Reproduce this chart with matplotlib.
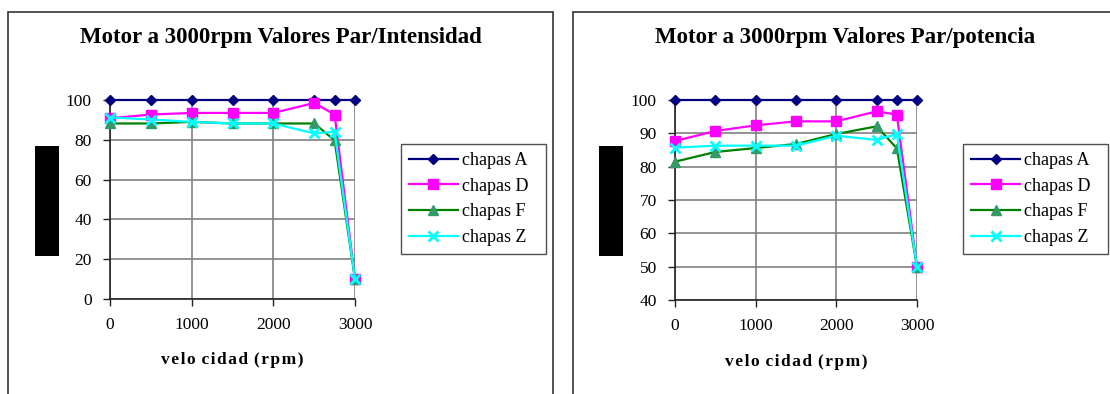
import matplotlib
matplotlib.use("Agg")
import matplotlib.pyplot as plt
from matplotlib.patches import Rectangle

plt.rcParams['font.family'] = ['Liberation Serif', 'DejaVu Serif']

# speeds (rpm) where each motor was measured
rpm = [0, 500, 1000, 1500, 2000, 2500, 2750, 3000]
series_names = ["chapas A", "chapas D", "chapas F", "chapas Z"]

# Par/Intensidad
intens_A = [100, 100, 100, 100, 100, 100, 100, 100]
intens_D = [90.8, 92.7, 93.5, 93.5, 93.5, 98.5, 92.7, 10]
intens_F = [88.2, 88.2, 89, 88.2, 88.2, 88.2, 79.8, 10]
intens_Z = [91.2, 90.2, 89, 88.2, 88.2, 83.2, 84, 10]

# Par/potencia
poten_A = [100, 100, 100, 100, 100, 100, 100, 100]
poten_D = [87.7, 90.7, 92.4, 93.6, 93.6, 96.6, 95.6, 50]
poten_F = [81.5, 84.4, 85.6, 86.8, 89.8, 92.1, 85.5, 50]
poten_Z = [85.7, 86.3, 86.3, 86.3, 89.3, 88.0, 89.8, 50]

styles = [
    dict(color='#000080', marker='D', markersize=5.5, mfc='#000080', mec='#000080'),
    dict(color='#FF00FF', marker='s', markersize=6.5, mfc='#FF00FF', mec='#FF00FF'),
    dict(color='#008000', marker='^', markersize=7.5, mfc='#339966', mec='#339966'),
    dict(color='#00FFFF', marker='x', markersize=7.5, mfc='#00FFFF', mec='#00FFFF', mew=2),
]

W, H = 1110, 394
fig = plt.figure(figsize=(W / 100, H / 100), dpi=100)


def fx(px):
    return px / W


def fy(py):
    return 1 - py / H


def chart(frame_x0, frame_x1, ax_box, title, ys, ylim, yticks, block_x, leg_box):
    # outer chart border
    fig.patches.append(Rectangle((fx(frame_x0), fy(420)), fx(frame_x1 - frame_x0), (420 - 12) / H,
                                 transform=fig.transFigure, fill=False, ec='#333333', lw=1.2))
    # black block where the y title sat
    fig.patches.append(Rectangle((fx(block_x), fy(256)), fx(24), 110 / H,
                                 transform=fig.transFigure, fc='black', ec='none'))

    x0, x1, ytop, ybot = ax_box
    ax = fig.add_axes([fx(x0), fy(ybot), fx(x1 - x0), (ybot - ytop) / H])
    lines = []
    for vals, st in zip(ys, styles):
        ln, = ax.plot(rpm, vals, lw=1.6, clip_on=False, zorder=3, **st)
        lines.append(ln)

    ax.set_xlim(0, 3000)
    ax.set_ylim(*ylim)
    ax.set_xticks([0, 1000, 2000, 3000])
    ax.set_yticks(yticks)
    ax.grid(True, color='#808080', lw=1.2)
    ax.set_axisbelow(True)
    for s in ['top', 'right']:
        ax.spines[s].set_visible(False)
    for s in ['left', 'bottom']:
        ax.spines[s].set_color('#222222')
        ax.spines[s].set_linewidth(1.2)
    ax.tick_params(axis='both', direction='out', length=5, width=1, color='#222222',
                   labelsize=12.5, pad=8)
    ax.set_xlabel("v\u200ae\u200al\u200ao\u200a c\u200ai\u200ad\u200aa\u200ad\u200a (\u200ar\u200ap\u200am\u200a)",
                  fontsize=12.5, fontweight='bold', labelpad=14)

    fig.text(fx((frame_x0 + frame_x0 + 545) / 2), fy(38), title, ha='center', va='center',
             fontsize=16.5, fontweight='bold')

    lx0, lx1, ly0, ly1 = leg_box
    leg = fig.legend(lines, series_names, loc='upper left',
                     bbox_to_anchor=(fx(lx0), fy(ly1), fx(lx1 - lx0), (ly1 - ly0) / H),
                     mode='expand', fontsize=13, frameon=True, fancybox=False,
                     edgecolor='#222222', handlelength=2.7, handletextpad=0.25,
                     labelspacing=0.48, borderpad=0.45, borderaxespad=0)
    leg.get_frame().set_linewidth(1.0)
    return ax


chart(8, 553, (110, 355, 100, 299), "Motor a 3000rpm Valores Par/Intensidad",
      [intens_A, intens_D, intens_F, intens_Z], (0, 100), [0, 20, 40, 60, 80, 100],
      35, (401, 546, 144, 256))
chart(573, 1125, (675, 917, 100, 300), "Motor a 3000rpm Valores Par/potencia",
      [poten_A, poten_D, poten_F, poten_Z], (40, 100), [40, 50, 60, 70, 80, 90, 100],
      599, (963, 1108, 144, 256))

fig.savefig("out.png", dpi=100)
